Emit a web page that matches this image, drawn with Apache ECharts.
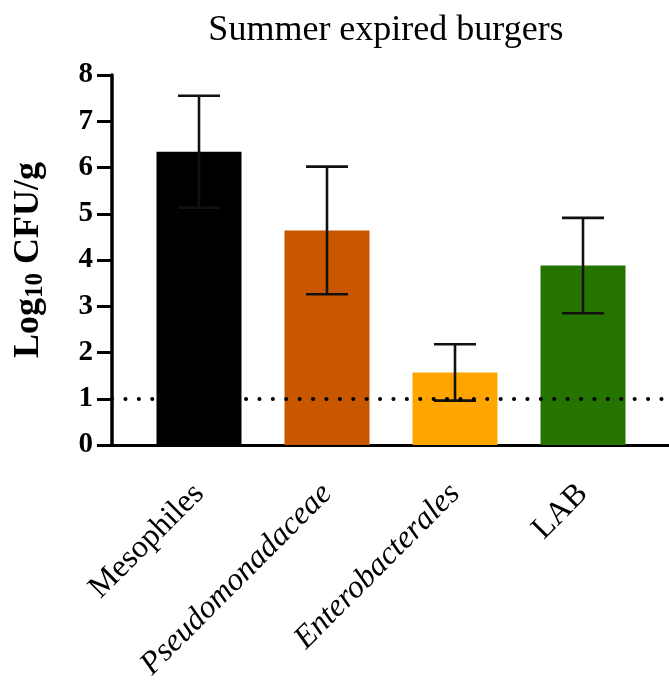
<!DOCTYPE html>
<html>
<head>
<meta charset="utf-8">
<script src="https://cdn.jsdelivr.net/npm/echarts@6/dist/echarts.min.js"></script>
<style>
html,body{margin:0;padding:0;background:#fff;}
#chart{width:669px;height:688px;}
</style>
</head>
<body>
<div id="chart"></div>
<script>
const titleText = 'Summer expired burgers';
const categories = ['Mesophiles', 'Pseudomonadaceae', 'Enterobacterales', 'LAB'];
const italicCats = [false, true, true, false];
const means = [6.34, 4.64, 1.57, 3.88];
const errors = [1.21, 1.38, 0.61, 1.03];
const barColors = ['#000000', '#C95700', '#FFA500', '#267400'];
const yTicks = [0, 1, 2, 3, 4, 5, 6, 7, 8];
const limitOfDetection = 1;

const serif = '"Liberation Serif", "Times New Roman", serif';
const chart = echarts.init(document.getElementById('chart'), null, {renderer: 'canvas'});

const barData = means.map((v, i) => ({value: [i, v], itemStyle: {color: barColors[i]}}));
const errData = means.map((v, i) => [i, v - errors[i], v + errors[i]]);

chart.setOption({
  animation: false,
  backgroundColor: '#ffffff',
  title: {
    text: titleText,
    left: 381,
    textAlign: 'center',
    top: 8,
    textStyle: {fontFamily: serif, fontSize: 36, fontWeight: 'normal', color: '#000'}
  },
  grid: {left: 112, right: 0, top: 75, bottom: 243, outerBoundsMode: 'none'},
  xAxis: {
    type: 'value',
    min: -0.6797,
    max: 3.671875,
    splitLine: {show: false},
    axisLine: {show: true, onZero: false, lineStyle: {color: '#000', width: 3}},
    axisTick: {show: false},
    axisLabel: {
      customValues: categories.map((c, i) => i),
      rotate: 45,
      margin: 44,
      formatter: function (v) {
        const i = Math.round(v);
        return italicCats[i] ? '{it|' + categories[i] + '}' : '{n|' + categories[i] + '}';
      },
      rich: {
        n: {fontFamily: serif, fontSize: 32, color: '#000'},
        it: {fontFamily: serif, fontSize: 32, fontStyle: 'italic', color: '#000'}
      }
    }
  },
  yAxis: {
    type: 'value',
    min: 0,
    max: 8,
    interval: 1,
    splitLine: {show: false},
    axisLine: {show: true, onZero: false, lineStyle: {color: '#000', width: 3.5}},
    axisTick: {show: true, length: 15, lineStyle: {color: '#000', width: 3}},
    axisLabel: {
      margin: 19,
      fontFamily: serif, fontSize: 29, fontWeight: 'bold', color: '#000',
      customValues: yTicks
    },
    name: '{b|Log}{s|10}{b| CFU/g}',
    nameLocation: 'middle',
    nameRotate: 90,
    nameGap: 64,
    nameTextStyle: {
      rich: {
        b: {fontFamily: serif, fontSize: 36, fontWeight: 'bold', color: '#000', lineHeight: 38},
        s: {fontFamily: serif, fontSize: 25, fontWeight: 'bold', color: '#000', verticalAlign: 'bottom', lineHeight: 28, padding: [12, 0, 0, 0]}
      }
    }
  },
  series: [
    {
      type: 'line',
      data: [],
      z: 1,
      markLine: {
        silent: true,
        symbol: 'none',
        label: {show: false},
        lineStyle: {color: '#000', width: 4, type: [0.1, 13.3], cap: 'round', dashOffset: 0},
        data: [{yAxis: limitOfDetection}]
      }
    },
    {
      type: 'bar',
      z: 2,
      barWidth: 85,
      data: barData
    },
    {
      type: 'custom',
      z: 3,
      data: errData,
      renderItem: function (params, api) {
        const x = api.value(0);
        const lo = api.coord([x, api.value(1)]);
        const hi = api.coord([x, api.value(2)]);
        const half = 21;
        const style = {stroke: '#111', lineWidth: 2.6};
        return {
          type: 'group',
          children: [
            {type: 'line', shape: {x1: lo[0], y1: lo[1], x2: hi[0], y2: hi[1]}, style: style},
            {type: 'line', shape: {x1: hi[0] - half, y1: hi[1], x2: hi[0] + half, y2: hi[1]}, style: style},
            {type: 'line', shape: {x1: lo[0] - half, y1: lo[1], x2: lo[0] + half, y2: lo[1]}, style: style}
          ]
        };
      }
    }
  ]
});
</script>
</body>
</html>
